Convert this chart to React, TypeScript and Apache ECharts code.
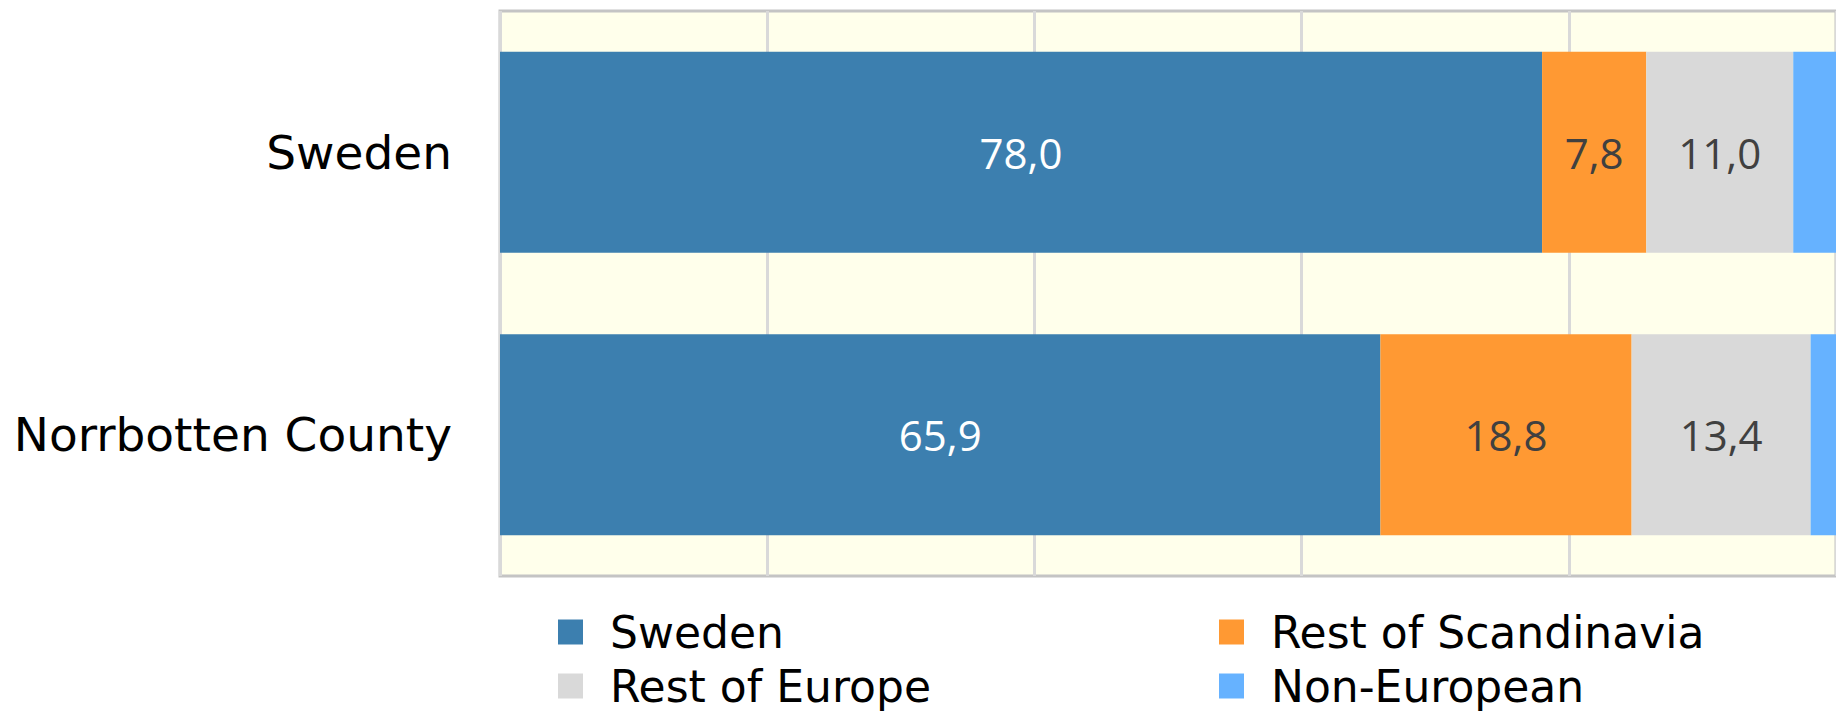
import React, { useEffect, useRef } from "react";
import * as echarts from "echarts";

const categories = ["Sweden", "Norrbotten County"];
const seriesNames = ["Sweden", "Rest of Scandinavia", "Rest of Europe", "Non-European"];
const swedenValues = [78.0, 65.9];
const restScandinaviaValues = [7.8, 18.8];
const restEuropeValues = [11.0, 13.4];
const nonEuropeanValues = [3.2, 1.9];
const colors = ["#3C7FAF", "#FF9933", "#D9D9D9", "#66B2FF"];
const labelColors = ["#FFFFFF", "#404040", "#404040", "#404040"];

export default function App() {
  const ref = useRef<HTMLDivElement>(null);
  useEffect(() => {
    document.body.style.margin = "0";
    if (!ref.current) return;
    const chart = echarts.init(ref.current, undefined, { renderer: "svg" });
    const values = [swedenValues, restScandinaviaValues, restEuropeValues, nonEuropeanValues];
    const series = seriesNames.map((name, i) => ({
      name,
      type: "bar" as const,
      stack: "total",
      barWidth: 201,
      data: values[i],
      itemStyle: { color: colors[i] },
      label: {
        show: i < 3,
        position: "inside" as const,
        color: labelColors[i],
        fontFamily: "Open Sans",
        fontSize: 42,
        formatter: (p: any) => Number(p.value).toFixed(1).replace(".", ","),
      },
    }));
    const legendText = {
      fontFamily: "DejaVu Sans",
      fontSize: 44,
      color: "#000000",
      lineHeight: 44,
      padding: [0, 0, 0, 22],
    };
    chart.setOption({
      animation: false,
      grid: {
        left: 500,
        top: 11,
        width: 1338,
        height: 565,
        show: true,
        backgroundColor: "#FFFFEB",
        borderColor: "#C4C4C4",
        borderWidth: 3,
      },
      xAxis: {
        type: "value",
        min: 0,
        max: 100,
        interval: 20,
        axisLabel: { show: false },
        axisLine: { show: false },
        axisTick: { show: false },
        splitLine: { show: true, lineStyle: { color: "#D9D9D9", width: 3 } },
      },
      yAxis: {
        type: "category",
        data: categories,
        inverse: true,
        axisLine: { show: false },
        axisTick: { show: false },
        axisLabel: {
          fontFamily: "DejaVu Sans",
          fontSize: 47,
          color: "#000000",
          margin: 48,
        },
      },
      legend: [
        {
          data: ["Sweden", "Rest of Europe"],
          orient: "vertical",
          left: 558,
          top: 610,
          height: 110,
          itemWidth: 25,
          itemHeight: 25,
          itemGap: 10,
          icon: "rect",
          padding: 0,
          textStyle: legendText,
        },
        {
          data: ["Rest of Scandinavia", "Non-European"],
          orient: "vertical",
          left: 1219,
          top: 610,
          height: 110,
          itemWidth: 25,
          itemHeight: 25,
          itemGap: 10,
          icon: "rect",
          padding: 0,
          textStyle: legendText,
        },
      ],
      series,
    });
    return () => chart.dispose();
  }, []);
  return <div ref={ref} style={{ width: 1836, height: 712 }} />;
}
